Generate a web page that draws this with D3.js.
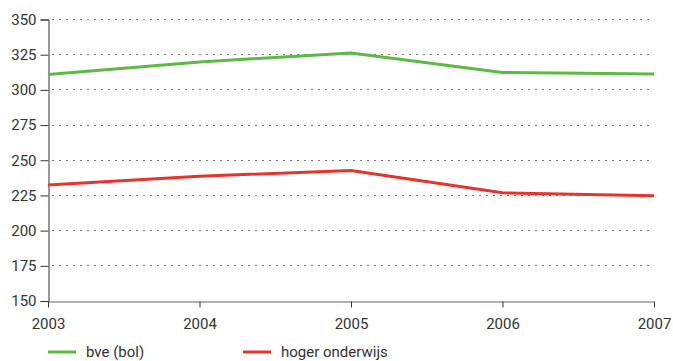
<!DOCTYPE html>
<html>
<head>
<meta charset="utf-8">
<script src="https://cdn.jsdelivr.net/npm/d3@7"></script>
<style>
  body { margin: 0; background: #fff; }
  text { font-family: Roboto, "DejaVu Sans", sans-serif; fill: #333; }
</style>
</head>
<body>
<div id="chart"></div>
<script>
const width = 673;
const height = 361;

const years = [2003, 2004, 2005, 2006, 2007];
const bve = [310.5, 319.5, 325.8, 312, 311];
const hogerOnderwijs = [232, 238.3, 242.4, 226.5, 224.5];
const yTicks = [150, 175, 200, 225, 250, 275, 300, 325, 350];
const seriesNames = ['bve (bol)', 'hoger onderwijs'];

const colorBve = '#5cb944';
const colorHo = '#e8332a';

const margin = {top: 19, left: 48, right: 19, bottom: 61};

const svg = d3.select('#chart')
    .append('svg')
    .attr('width', width)
    .attr('height', height);

const x = d3.scaleLinear()
    .domain([2003, 2007])
    .range([margin.left, width - margin.right]);

const y = d3.scaleLinear()
    .domain([150, 350])
    .range([height - margin.bottom + 0.5, margin.top]);

// dotted gridlines
svg.append('g')
    .selectAll('line')
    .data(yTicks.filter(d => d > 150))
    .enter()
    .append('line')
    .attr('x1', margin.left + 4)
    .attr('x2', width - margin.right - 3)
    .attr('y1', d => Math.round(y(d)) + 0.5)
    .attr('y2', d => Math.round(y(d)) + 0.5)
    .attr('stroke', '#777')
    .attr('stroke-width', 1)
    .attr('stroke-dasharray', '2,5');

// y axis
const yAxis = svg.append('g')
    .attr('transform', 'translate(' + (margin.left + 0.5) + ',0.5)')
    .call(d3.axisLeft(y).tickValues(yTicks).tickSize(8).tickPadding(4));
yAxis.select('.domain').attr('stroke', '#333');
yAxis.selectAll('line').attr('stroke', '#333');
yAxis.selectAll('text').style('font-size', '15px').attr('fill', '#333');

// x axis
const xAxis = svg.append('g')
    .attr('transform', 'translate(0,' + (Math.round(y(150)) + 0.5) + ')')
    .call(d3.axisBottom(x).tickValues(years).tickFormat(d3.format('d')).tickSize(6).tickSizeOuter(0).tickPadding(11));
xAxis.select('.domain').attr('stroke', '#666');
xAxis.selectAll('line').attr('stroke', '#333');
xAxis.selectAll('text').style('font-size', '15px').attr('fill', '#333');

const line = d3.line()
    .x((d, i) => x(years[i]))
    .y(d => y(d));

svg.append('path')
    .datum(bve)
    .attr('d', line)
    .attr('fill', 'none')
    .attr('stroke', colorBve)
    .attr('stroke-width', 3);

svg.append('path')
    .datum(hogerOnderwijs)
    .attr('d', line)
    .attr('fill', 'none')
    .attr('stroke', colorHo)
    .attr('stroke-width', 3);

// legend
const legendX = [48, 243];
const legendColors = [colorBve, colorHo];
const legend = svg.append('g');
seriesNames.forEach((name, i) => {
    legend.append('line')
        .attr('x1', legendX[i])
        .attr('x2', legendX[i] + 28)
        .attr('y1', 352)
        .attr('y2', 352)
        .attr('stroke', legendColors[i])
        .attr('stroke-width', 3);
    legend.append('text')
        .attr('x', legendX[i] + 38)
        .attr('y', 357)
        .style('font-size', '15px')
        .text(name);
});
</script>
</body>
</html>
